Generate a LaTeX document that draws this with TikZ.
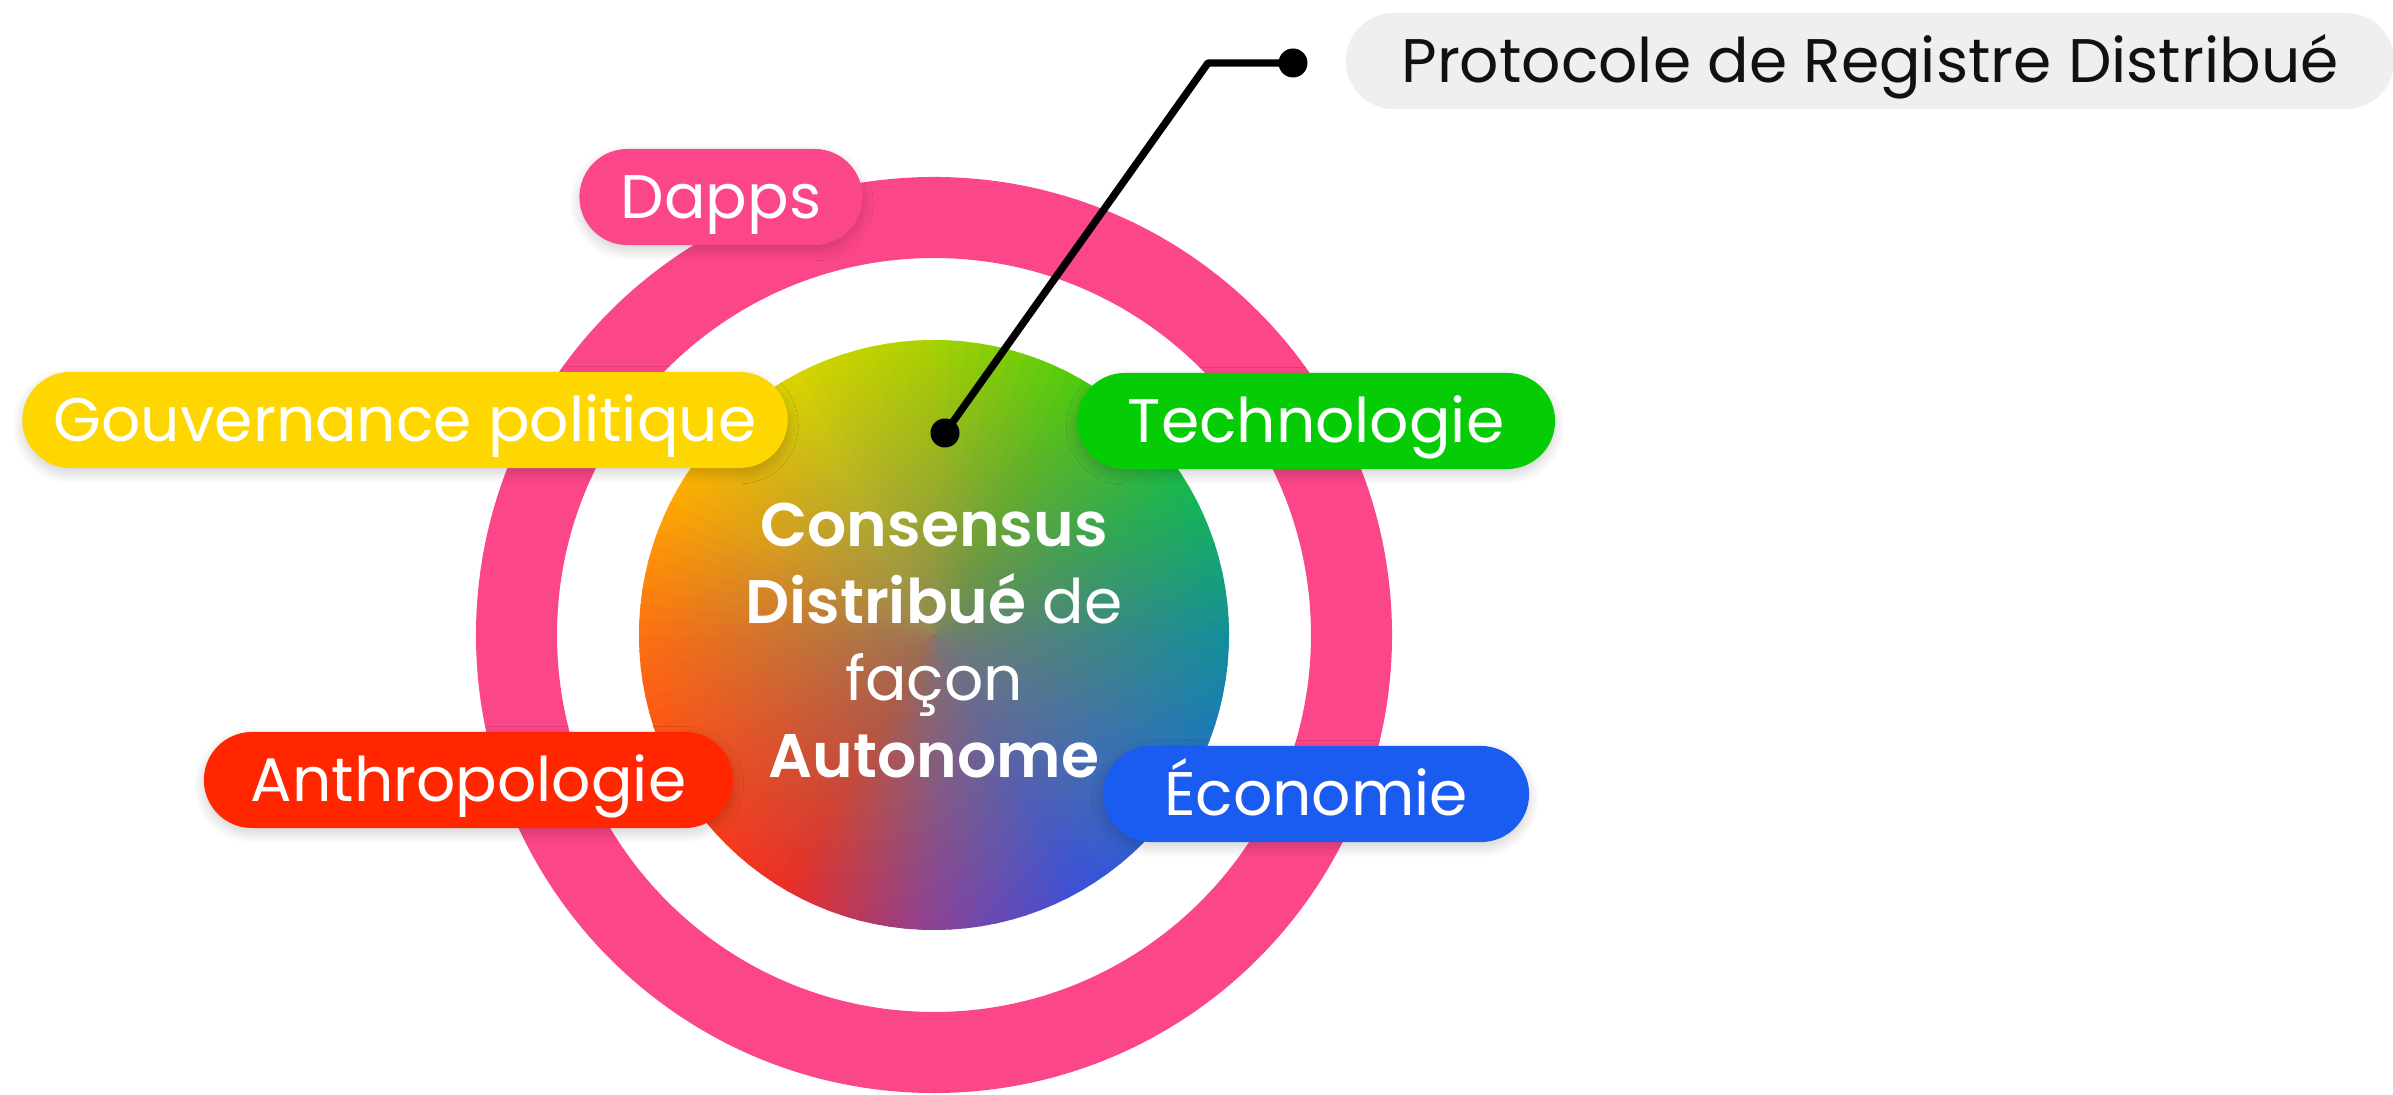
\documentclass[tikz,border=0pt]{standalone}
\usepackage{fontspec}
\setmainfont{Poppins}[BoldFont={Poppins SemiBold}]
\usepackage{tikz}
\usetikzlibrary{positioning,calc,fadings,shadows.blur}

\definecolor{ringpink}{HTML}{FB4689}
\definecolor{gouvyellow}{HTML}{FFD700}
\definecolor{techgreen}{HTML}{05CC05}
\definecolor{ecoblue}{HTML}{1B5CF0}
\definecolor{anthred}{HTML}{FF2600}
\definecolor{protogray}{HTML}{EEF0EF}
\definecolor{protoink}{HTML}{111111}
% colour stops of the disc, every 30 degrees from east, anticlockwise
\definecolor{cone0}{HTML}{12909A}
\definecolor{cone1}{HTML}{16B850}
\definecolor{cone2}{HTML}{4CCC10}
\definecolor{cone3}{HTML}{A8D200}
\definecolor{cone4}{HTML}{DCD400}
\definecolor{cone5}{HTML}{FFAE00}
\definecolor{cone6}{HTML}{FF7010}
\definecolor{cone7}{HTML}{FF4818}
\definecolor{cone8}{HTML}{EC2E24}
\definecolor{cone9}{HTML}{8A4298}
\definecolor{cone10}{HTML}{3A52DC}
\definecolor{cone11}{HTML}{2070C8}
\definecolor{cone12}{HTML}{12909A}
\definecolor{centremud}{HTML}{857A62}

\tikzfading[name=centrefade, inner color=transparent!15, outer color=transparent!100]

\tikzset{%
	pill/.style={rectangle, rounded corners=0.48cm, inner sep=0pt,
		minimum height=0.96cm, text=white, text height=12.2pt, text depth=0pt,
		font=\fontsize{17.5}{21}\selectfont},
	shadowed/.style={blur shadow={shadow xshift=0pt, shadow yshift=-1.5pt,
		shadow blur radius=3pt, shadow blur steps=8, shadow opacity=18}},
	mark dot/.style={circle, fill=black, inner sep=0pt, minimum size=0.29cm}
}

\begin{document}
\begin{tikzpicture}[x=0.01cm, y=-0.01cm]
	%% sizes
	\def\Rring{417.5} % mid radius of the ring
	\def\Rdisc{295} % radius of the disc
	
	\useasboundingbox (0,0) rectangle (2393,1095);
	\coordinate (C) at (934,635);
	
	% pink ring
	\draw[ringpink, line width=0.81cm] (C) circle (\Rring);
	
	% colour disc: wedges round the centre, muddied towards the middle
	\begin{scope}[shift={(C)}, yscale=-1]
		\clip (0,0) circle (\Rdisc);
		\foreach \a in {0,3,...,357} {
			\pgfmathsetmacro\amid{\a+1.5}
			\pgfmathtruncatemacro\j{floor(\amid/30)}
			\pgfmathtruncatemacro\k{\j+1}
			\pgfmathsetmacro\pct{100-(\amid-30*\j)*100/30}
			\colorlet{wedgecol}{cone\j!\pct!cone\k}
			\fill[wedgecol] (0,0) -- (\a:\Rdisc+5) arc (\a:\a+3.4:\Rdisc+5) -- cycle;
		}
		\fill[centremud, path fading=centrefade] (0,0) circle (\Rdisc);
	\end{scope}
	
	% leader to the protocol label
	\node[mark dot] (dotin) at (945,433) {};
	\node[mark dot] (dotout) at (1293,63) {};
	\coordinate (knee) at (1208,63);
	\draw[line width=2.1pt, line join=round] (dotin.center) -- (knee) -- (dotout.center);
	
	% labels round the ring
	\node[pill, shadowed, fill=ringpink, minimum width=2.83cm] (dapps) at (721,197) {Dapps};
	\node[pill, shadowed, fill=gouvyellow, minimum width=7.65cm] (gouv) at (405,420) {Gouvernance politique};
	\node[pill, shadowed, fill=techgreen, minimum width=4.78cm] (techno) at (1316,421) {Technologie};
	\node[pill, shadowed, fill=anthred, minimum width=5.29cm] (anthro) at (468.5,780) {Anthropologie};
	\node[pill, shadowed, fill=ecoblue, minimum width=4.26cm] (eco) at (1316,794) {Économie};
	\node[pill, fill=protogray, text=protoink, minimum width=10.48cm] (proto) at (1870,61) {Protocole de Registre Distribué};
	
	% centre text
	\node[text=white, align=center, font=\fontsize{17.5}{21.9}\selectfont] (core) at (934,641)
	{\textbf{Consensus}\\\textbf{Distribué} de\\façon\\\textbf{Autonome}};
	
\end{tikzpicture}
\end{document}
